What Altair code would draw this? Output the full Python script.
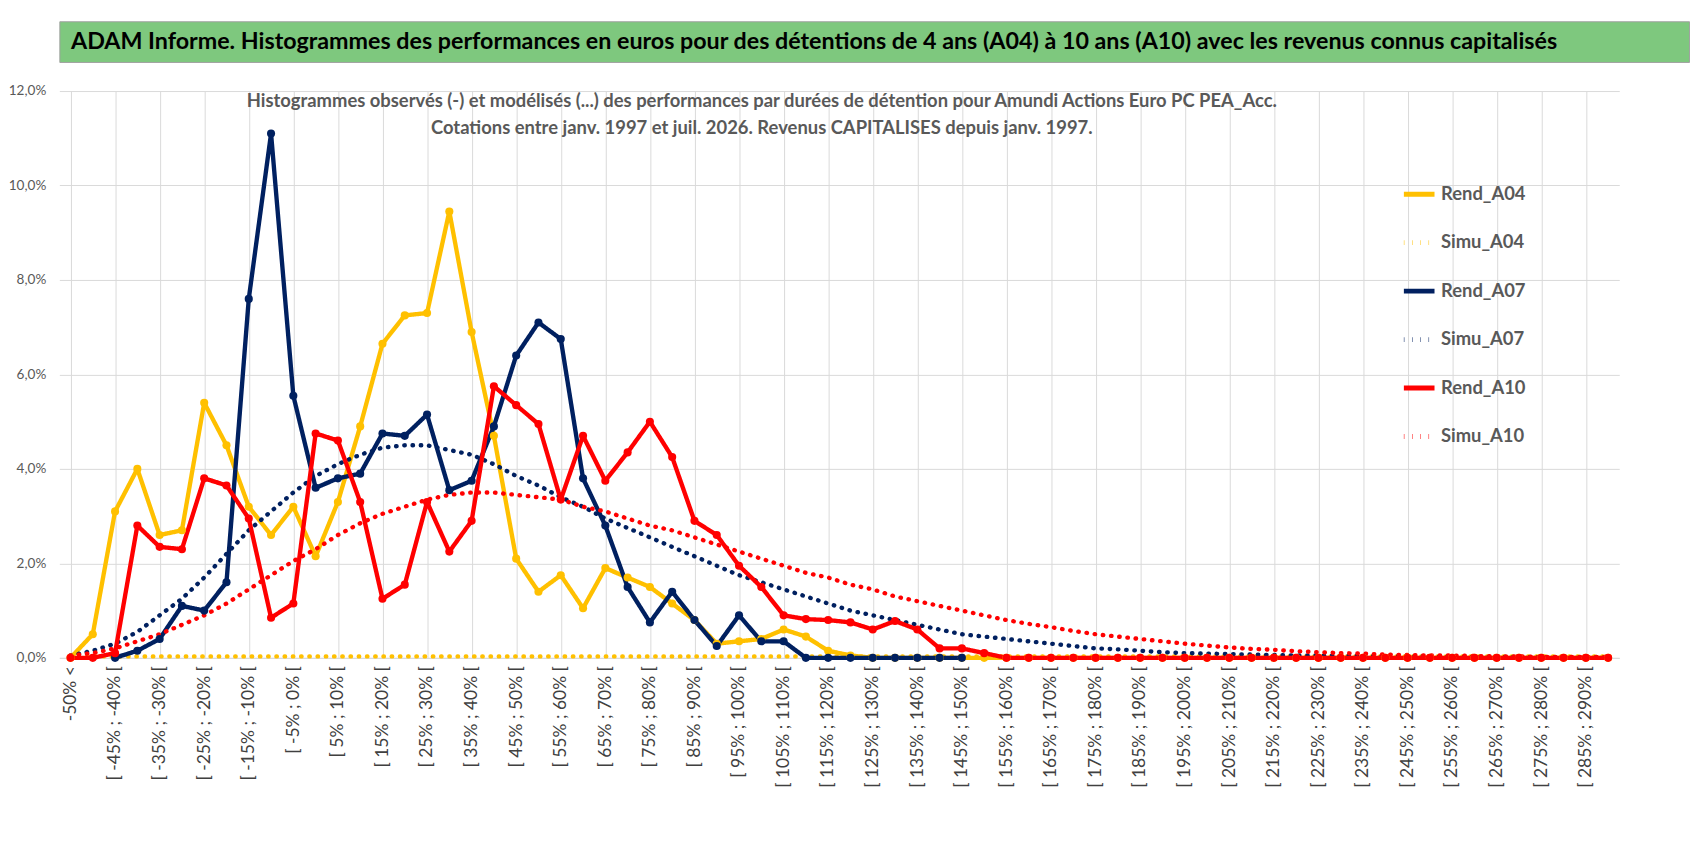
import altair as alt
import pandas as pd

labels = ["-50% <"] + [f"[ {-50+5*(k-1)}% ; {-45+5*(k-1)}% [" for k in range(1, 70)]

rend_a04 = [0, 0.5, 3.1, 4.0, 2.6, 2.7, 5.4, 4.5, 3.2, 2.6, 3.2, 2.15, 3.3, 4.9, 6.65, 7.25, 7.3, 9.45, 6.9, 4.7,
            2.1, 1.4, 1.75, 1.05, 1.9, 1.7, 1.5, 1.15, 0.8, 0.3, 0.35, 0.4, 0.6, 0.45, 0.15, 0.05] + [0] * 34
simu_a04 = [0.03] * 70
rend_a07 = [None, None, 0, 0.15, 0.4, 1.1, 1.0, 1.6, 7.6, 11.1, 5.55, 3.6, 3.8, 3.9, 4.75, 4.7, 5.15, 3.55, 3.75, 4.9,
            6.4, 7.1, 6.75, 3.8, 2.8, 1.5, 0.75, 1.4, 0.8, 0.25, 0.9, 0.35, 0.35, 0, 0, 0, 0, 0, 0, 0, 0] + [None] * 29
simu_a07 = [0.05, 0.15, 0.3, 0.55, 0.9, 1.25, 1.7, 2.2, 2.7, 3.1,
            3.5, 3.85, 4.1, 4.3, 4.45, 4.5, 4.5, 4.4, 4.3, 4.1,
            3.85, 3.65, 3.4, 3.2, 2.95, 2.75, 2.55, 2.35, 2.15, 1.95,
            1.75, 1.6, 1.45, 1.3, 1.15, 1.0, 0.9, 0.8, 0.7, 0.6,
            0.5, 0.45, 0.4, 0.35, 0.3, 0.25, 0.2, 0.18, 0.15, 0.12,
            0.1, 0.09, 0.08, 0.07, 0.06, 0.05, 0.05, 0.04, 0.04, 0.03,
            0.03, 0.03, 0.02, 0.02, 0.02, 0.02, 0.01, 0.01, 0.01, 0.01]
rend_a10 = [0, 0, 0.1, 2.8, 2.35, 2.3, 3.8, 3.65, 2.95, 0.85, 1.15, 4.75, 4.6, 3.3, 1.25, 1.55, 3.3, 2.25, 2.9, 5.75,
            5.35, 4.95, 3.35, 4.7, 3.75, 4.35, 5.0, 4.25, 2.9, 2.6, 1.95, 1.5, 0.9, 0.82, 0.8, 0.75, 0.6, 0.78, 0.6, 0.2,
            0.2, 0.1] + [0] * 28
simu_a10 = [0.05, 0.1, 0.2, 0.35, 0.5, 0.7, 0.9, 1.15, 1.45, 1.75,
            2.05, 2.3, 2.6, 2.85, 3.05, 3.2, 3.35, 3.45, 3.5, 3.5,
            3.45, 3.4, 3.35, 3.2, 3.1, 2.95, 2.8, 2.7, 2.55, 2.4,
            2.25, 2.1, 1.95, 1.8, 1.7, 1.55, 1.45, 1.3, 1.2, 1.1,
            1.0, 0.9, 0.8, 0.72, 0.65, 0.57, 0.5, 0.45, 0.4, 0.35,
            0.3, 0.26, 0.22, 0.19, 0.17, 0.14, 0.12, 0.1, 0.09, 0.07,
            0.06, 0.05, 0.05, 0.04, 0.03, 0.03, 0.02, 0.02, 0.02, 0.02]

series = {"Rend_A04": rend_a04, "Simu_A04": simu_a04, "Rend_A07": rend_a07,
          "Simu_A07": simu_a07, "Rend_A10": rend_a10, "Simu_A10": simu_a10}
names = list(series)
colors = ["#ffc000", "#ffc000", "#002060", "#002060", "#ff0000", "#ff0000"]
pt_colors = ["#ffc000", "#ffc000", "#44546a", "#44546a", "#ff0000", "#ff0000"]
dashes = [[1, 0], [0.5, 8], [1, 0], [0.5, 8], [1, 0], [0.5, 8]]

rows = []
for i, (n, vals) in enumerate(series.items()):
    for k, v in enumerate(vals):
        if v is not None:
            rows.append({"cat": labels[k], "k": k, "val": v, "series": n, "ord": i})
df = pd.DataFrame(rows)

FONT = "Lato"
xenc = alt.X("cat:N", sort=labels, title=None, scale=alt.Scale(paddingOuter=0.1),
             axis=alt.Axis(values=labels[::2], labelAngle=-90, labelFontSize=18, labelColor="#404040",
                           labelFont=FONT, grid=True, gridColor="#d9d9d9", ticks=False,
                           domainColor="#d9d9d9", labelPadding=8, labelLimit=300))
yenc = alt.Y("val:Q", title=None, scale=alt.Scale(domain=[0, 12]),
             axis=alt.Axis(values=[0, 2, 4, 6, 8, 10, 12], labelExpr="replace(format(datum.value,'.1f'),'.',',')+'%'",
                           labelFontSize=14, labelColor="#595959", labelFont=FONT, gridColor="#d9d9d9",
                           domain=False, ticks=False, labelPadding=14))
cenc = alt.Color("series:N", scale=alt.Scale(domain=names, range=colors),
                 legend=alt.Legend(title=None, orient="none", legendX=1385, legendY=160, symbolType="stroke",
                                   symbolStrokeWidth=5, symbolSize=1000, labelFontSize=19, labelFont=FONT,
                                   labelFontWeight="bold", labelColor="#595959", rowPadding=21))
denc = alt.StrokeDash("series:N", scale=alt.Scale(domain=names, range=dashes))

W, H = 1610, 585
lines = alt.Chart(df).mark_line(strokeWidth=4.5, strokeCap="round", strokeJoin="round").encode(
    x=xenc, y=yenc, color=cenc, strokeDash=denc, order="ord:Q", detail="series:N")
pts = alt.Chart(df[df.series.str.startswith("Rend")]).mark_circle(size=70, opacity=1).encode(
    x=xenc, y=yenc, color=alt.Color("series:N", scale=alt.Scale(domain=names, range=pt_colors), legend=None))
main = alt.layer(lines, pts).properties(
    width=W, height=H,
    title=alt.TitleParams(["Histogrammes observés (-) et modélisés (...) des performances par durées de détention pour Amundi Actions Euro PC PEA_Acc.",
                           "Cotations entre janv. 1997 et juil. 2026. Revenus CAPITALISES depuis janv. 1997."],
                          fontSize=19, font=FONT, fontWeight="bold", color="#595959", dy=15, dx=-80, lineHeight=28,
                          anchor="middle", offset=-40))

banner = alt.Chart(pd.DataFrame({"t": ["ADAM Informe. Histogrammes des performances en euros pour des détentions de 4 ans (A04) à 10 ans (A10) avec les revenus connus capitalisés"]})).mark_text(
    font=FONT, fontSize=24, fontWeight="bold", color="#000000", align="left").encode(
    text="t:N", x=alt.value(12), y=alt.value(22)).properties(
    width=1682, height=42, view=alt.ViewBackground(fill="#7ec87e", stroke="#a0a0a0"))

chart = alt.vconcat(banner, main, spacing=22).configure_view(stroke=None).properties(
    padding={"left": 0, "top": 0, "right": 0, "bottom": 0})
chart.save("out.html", embed_options={"renderer": "svg", "actions": False})
